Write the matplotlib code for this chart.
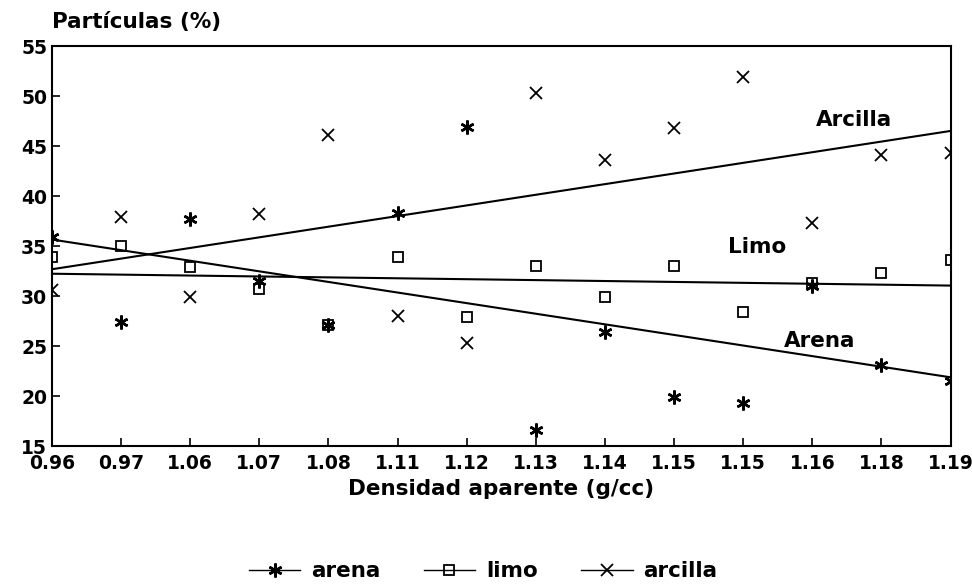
import matplotlib.pyplot as plt
import numpy as np

# Densidad aparente (g/cc) por muestra, en el orden del eje
densidad = ["0.96", "0.97", "1.06", "1.07", "1.08", "1.11", "1.12",
            "1.13", "1.14", "1.15", "1.15", "1.16", "1.18", "1.19"]

# Particulas (%)
arena = [35.9, 27.4, 37.7, 31.5, 27.1, 38.3, 46.9,
         16.6, 26.4, 19.9, 19.3, 31.0, 23.1, 21.5]
limo = [33.9, 35.0, 32.9, 30.7, 27.1, 33.9, 27.9,
        33.0, 29.9, 33.0, 28.4, 31.3, 32.3, 33.6]
arcilla = [30.6, 37.9, 29.9, 38.2, 46.1, 28.0, 25.3,
           50.3, 43.6, 46.8, 51.9, 37.3, 44.1, 44.3]

plt.rcParams['font.family'] = 'DejaVu Sans'
plt.rcParams['font.weight'] = 'bold'
plt.rcParams['axes.labelweight'] = 'bold'

fig = plt.figure(figsize=(9.72, 5.87), dpi=100)
ax = fig.add_axes([0.0535, 0.2402, 0.9245, 0.6814])

x = np.arange(len(densidad))

ax.plot(x, arena, ls='none', marker=(6, 2, 0), ms=10, mew=1.8, color='black', label='arena')
ax.plot(x, limo, ls='none', marker='s', ms=7, mew=1.3, mfc='none', color='black', label='limo')
ax.plot(x, arcilla, ls='none', marker='x', ms=8, mew=1.3, color='black', label='arcilla')

# rectas de regresion de cada fraccion
for serie in (arena, limo, arcilla):
    m, b = np.polyfit(x, serie, 1)
    ax.plot(x[[0, -1]], m * x[[0, -1]] + b, color='black', lw=1.5)

ax.text(11.6, 47.6, 'Arcilla', ha='center', va='center', fontsize=15.5)
ax.text(10.2, 34.9, 'Limo', ha='center', va='center', fontsize=15.5)
ax.text(11.1, 25.5, 'Arena', ha='center', va='center', fontsize=15.5)

ax.set_xlim(0, len(densidad) - 1)
ax.set_ylim(15, 55)
ax.set_xticks(x)
ax.set_xticklabels(densidad)
ax.set_yticks(range(15, 56, 5))
ax.tick_params(axis='both', direction='in', length=6, width=1.2, labelsize=13.5,
               top=False, right=False)
ax.tick_params(axis='x', pad=6)
for s in ax.spines.values():
    s.set_linewidth(1.5)

ax.set_xlabel('Densidad aparente (g/cc)', fontsize=15.5, labelpad=4)
fig.text(0.0535, 0.962, 'Partículas (%)', fontsize=15.5, va='center')

handles, labels = ax.get_legend_handles_labels()
leg = fig.legend(handles, labels, loc='center', bbox_to_anchor=(0.497, 0.027), ncol=3,
                 frameon=False, fontsize=15.5, handlelength=2.4, columnspacing=2.0,
                 handletextpad=0.5)
for lh in leg.legend_handles:
    lh.set_linestyle('-')
    lh.set_linewidth(1.0)

fig.savefig('out.png', dpi=100)
